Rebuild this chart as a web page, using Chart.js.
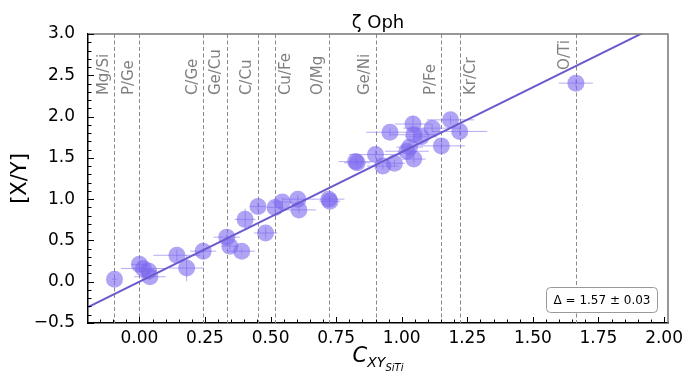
<!DOCTYPE html>
<html>
<head>
<meta charset="utf-8">
<script src="https://cdn.jsdelivr.net/npm/chart.js@4/dist/chart.umd.min.js"></script>
<style>
  html, body { margin: 0; padding: 0; background: #fff; }
</style>
</head>
<body>
<canvas id="chart" width="689" height="372"></canvas>
<script>
	// C_XY (x) and [X/Y] (y) for each abundance ratio, with errors
	var cxy  = [-0.095, 0.00, 0.015, 0.035, 0.04, 0.143, 0.18, 0.243, 0.333, 0.345, 0.39, 0.403, 0.452, 0.481, 0.517, 0.545,
		0.604, 0.608, 0.722, 0.726, 0.824, 0.83, 0.90, 0.928, 0.955, 0.972, 1.02, 1.03, 1.046, 1.043, 1.046, 1.074,
		1.116, 1.151, 1.186, 1.221, 1.664];
	var xy   = [0.03, 0.21, 0.16, 0.13, 0.06, 0.32, 0.165, 0.37, 0.54, 0.43, 0.37, 0.755, 0.91, 0.59, 0.90, 0.965,
		1.00, 0.87, 1.00, 0.975, 1.455, 1.44, 1.54, 1.40, 1.81, 1.435, 1.58, 1.63, 1.485, 1.91, 1.78, 1.755,
		1.86, 1.645, 1.96, 1.82, 2.405];
	var xErr = [0.01, 0.03, 0.085, 0.03, 0.06, 0.09, 0.065, 0.05, 0.05, 0.03, 0.05, 0.04, 0.03, 0.045, 0.03, 0.04,
		0.06, 0.065, 0.06, 0.04, 0.065, 0.05, 0.1, 0.06, 0.09, 0.04, 0.083, 0.05, 0.045, 0.07, 0.09, 0.06,
		0.11, 0.09, 0.09, 0.105, 0.065];
	var yErr = [0.03, 0.05, 0.05, 0.04, 0.04, 0.07, 0.16, 0.04, 0.04, 0.04, 0.03, 0.13, 0.05, 0.07, 0.05, 0.05,
		0.05, 0.04, 0.04, 0.04, 0.04, 0.04, 0.05, 0.04, 0.05, 0.04, 0.05, 0.05, 0.05, 0.1, 0.05, 0.05,
		0.05, 0.05, 0.05, 0.05, 0.05];

	// marked ratios (vertical dashed lines)
	var refX      = [-0.095, 0.00, 0.243, 0.333, 0.452, 0.517, 0.722, 0.90, 1.151, 1.221, 1.664];
	var refLabels = ['Mg/Si', 'P/Ge', 'C/Ge', 'Ge/Cu', 'C/Cu', 'Cu/Fe', 'O/Mg', 'Ge/Ni', 'P/Fe', 'Kr/Cr', 'O/Ti'];
	var refLabelY = [2.26, 2.26, 2.26, 2.26, 2.26, 2.26, 2.26, 2.26, 2.26, 2.26, 2.565];
	var refLabelSide = [-1, -1, -1, -1, -1, 1, -1, -1, -1, 1, -1];

	// linear fit
	var fitSlope = 1.57,
		fitSlopeErr = 0.03,
		fitIntercept = 0.0;

	var xTicks = [0.00, 0.25, 0.50, 0.75, 1.00, 1.25, 1.50, 1.75, 2.00];
	var yTicks = [-0.5, 0.0, 0.5, 1.0, 1.5, 2.0, 2.5, 3.0];
	var xMin = -0.196, xMax = 2.015, yMin = -0.5, yMax = 3.0;

	var FONT = '"DejaVu Sans", sans-serif';
	var PURPLE = 'rgba(123, 104, 238, 0.6)';

	var points = cxy.map(function (v, i) { return {x: v, y: xy[i]}; });
	var fitLine = [xMin, xMax].map(function (v) { return {x: v, y: fitSlope * v + fitIntercept}; });

	function drawInTicks(ctx, scale, axis, step, len) {
		var area = scale.chart.chartArea;
		var v = Math.ceil((scale.min - 1e-9) / step) * step;
		ctx.beginPath();
		for (; v <= scale.max + 1e-9; v += step) {
			var p = Math.round(scale.getPixelForValue(v)) + 0.5;
			if (axis === 'x') {
				ctx.moveTo(p, area.bottom);
				ctx.lineTo(p, area.bottom - len);
			} else {
				ctx.moveTo(area.left, p);
				ctx.lineTo(area.left + len, p);
			}
		}
		ctx.stroke();
	}

	var decor = {
		id: 'decor',
		beforeDatasetsDraw: function (chart) {
			var ctx = chart.ctx, a = chart.chartArea,
				sx = chart.scales.x, sy = chart.scales.y;
			ctx.save();
			ctx.beginPath();
			ctx.rect(a.left, a.top, a.right - a.left, a.bottom - a.top);
			ctx.clip();

			// dashed reference lines
			ctx.strokeStyle = '#8a8a8a';
			ctx.lineWidth = 1;
			ctx.setLineDash([4, 2.5]);
			refX.forEach(function (v) {
				var px = Math.round(sx.getPixelForValue(v)) + 0.5;
				ctx.beginPath();
				ctx.moveTo(px, a.top);
				ctx.lineTo(px, a.bottom);
				ctx.stroke();
			});
			ctx.setLineDash([]);

			// labels, left or right of their line
			ctx.fillStyle = '#808080';
			ctx.font = '15px ' + FONT;
			ctx.textAlign = 'left';
			refX.forEach(function (v, i) {
				var right = refLabelSide[i] > 0;
				ctx.save();
				ctx.textBaseline = right ? 'top' : 'bottom';
				ctx.translate(sx.getPixelForValue(v) + (right ? 4 : -3), sy.getPixelForValue(refLabelY[i]));
				ctx.rotate(-Math.PI / 2);
				ctx.fillText(refLabels[i], 0, 0);
				ctx.restore();
			});

			// error bars
			ctx.strokeStyle = 'rgba(123, 104, 238, 0.55)';
			ctx.lineWidth = 1;
			ctx.beginPath();
			cxy.forEach(function (v, i) {
				var px = sx.getPixelForValue(v), py = sy.getPixelForValue(xy[i]);
				ctx.moveTo(sx.getPixelForValue(v - xErr[i]), py);
				ctx.lineTo(sx.getPixelForValue(v + xErr[i]), py);
				ctx.moveTo(px, sy.getPixelForValue(xy[i] - yErr[i]));
				ctx.lineTo(px, sy.getPixelForValue(xy[i] + yErr[i]));
			});
			ctx.stroke();
			ctx.restore();
		},
		afterDraw: function (chart) {
			var ctx = chart.ctx, a = chart.chartArea,
				sx = chart.scales.x, sy = chart.scales.y;
			ctx.save();

			// top / right spines
			ctx.strokeStyle = '#777';
			ctx.lineWidth = 1.5;
			ctx.beginPath();
			ctx.moveTo(a.left, a.top);
			ctx.lineTo(a.right, a.top);
			ctx.lineTo(a.right, a.bottom);
			ctx.stroke();

			// inward ticks
			ctx.strokeStyle = '#000';
			ctx.lineWidth = 1;
			drawInTicks(ctx, sx, 'x', 0.25, 6);
			drawInTicks(ctx, sx, 'x', 0.05, 3.5);
			drawInTicks(ctx, sy, 'y', 0.5, 6);
			drawInTicks(ctx, sy, 'y', 0.1, 3.5);

			// title
			var cx = (a.left + a.right) / 2;
			ctx.fillStyle = '#000';
			ctx.font = '18px ' + FONT;
			ctx.textAlign = 'center';
			ctx.textBaseline = 'alphabetic';
			ctx.fillText('\u03b6 Oph', cx, 28);

			// y title
			ctx.save();
			ctx.translate(26, (a.top + a.bottom) / 2);
			ctx.rotate(-Math.PI / 2);
			ctx.font = '21px ' + FONT;
			ctx.fillText('[X/Y]', 0, 0);
			ctx.restore();

			// x title  C_{XY_{SiTi}}
			var f1 = 'italic 21px ' + FONT, f2 = 'italic 14px ' + FONT, f3 = 'italic 10px ' + FONT;
			ctx.textAlign = 'left';
			ctx.font = f1; var w1 = ctx.measureText('C').width;
			ctx.font = f2; var w2 = ctx.measureText('XY').width;
			ctx.font = f3; var w3 = ctx.measureText('SiTi').width;
			var x0 = cx - (w1 + w2 + w3) / 2;
			ctx.font = f1; ctx.fillText('C', x0, 362);
			ctx.font = f2; ctx.fillText('XY', x0 + w1, 367);
			ctx.font = f3; ctx.fillText('SiTi', x0 + w1 + w2, 371);

			// slope box
			var bx = 546, by = 287, bw = 111, bh = 25;
			ctx.beginPath();
			ctx.roundRect(bx + 0.5, by + 0.5, bw, bh, 4);
			ctx.fillStyle = '#fff';
			ctx.fill();
			ctx.strokeStyle = '#999';
			ctx.lineWidth = 1;
			ctx.stroke();
			ctx.fillStyle = '#000';
			ctx.font = '12px ' + FONT;
			ctx.textAlign = 'center';
			ctx.textBaseline = 'middle';
			ctx.fillText('\u0394 = ' + fitSlope.toFixed(2) + ' \u00b1 ' + fitSlopeErr.toFixed(2), bx + bw / 2 + 0.5, by + bh / 2 + 1);

			ctx.restore();
		}
	};

	new Chart(document.getElementById('chart'), {
		type: 'scatter',
		data: {
			datasets: [{
				type: 'line',
				data: fitLine,
				borderColor: '#6a5acd',
				borderWidth: 2,
				pointRadius: 0,
				fill: false,
				order: 0
			}, {
				data: points,
				backgroundColor: PURPLE,
				borderWidth: 0,
				pointRadius: 8.5,
				order: 1
			}]
		},
		options: {
			responsive: false,
			animation: false,
			layout: {padding: {top: 34, right: 21, left: 0, bottom: 0}},
			plugins: {legend: {display: false}, tooltip: {enabled: false}},
			scales: {
				x: {
					type: 'linear',
					min: xMin,
					max: xMax,
					grid: {display: false},
					border: {display: true, color: '#000', width: 1.5},
					ticks: {
						color: '#000',
						font: {family: FONT, size: 17},
						padding: -3,
						maxRotation: 0,
						callback: function (v) { return v.toFixed(2); }
					},
					afterBuildTicks: function (s) { s.ticks = xTicks.map(function (v) { return {value: v}; }); },
					afterFit: function (s) { s.height = 49; }
				},
				y: {
					type: 'linear',
					min: yMin,
					max: yMax,
					grid: {display: false},
					border: {display: true, color: '#000', width: 1.5},
					ticks: {
						color: '#000',
						font: {family: FONT, size: 17},
						padding: 5,
						callback: function (v) { return (v < 0 ? '\u2212' : '') + Math.abs(v).toFixed(1); }
					},
					afterBuildTicks: function (s) { s.ticks = yTicks.map(function (v) { return {value: v}; }); },
					afterFit: function (s) { s.width = 88; }
				}
			}
		},
		plugins: [decor]
	});
</script>
</body>
</html>
